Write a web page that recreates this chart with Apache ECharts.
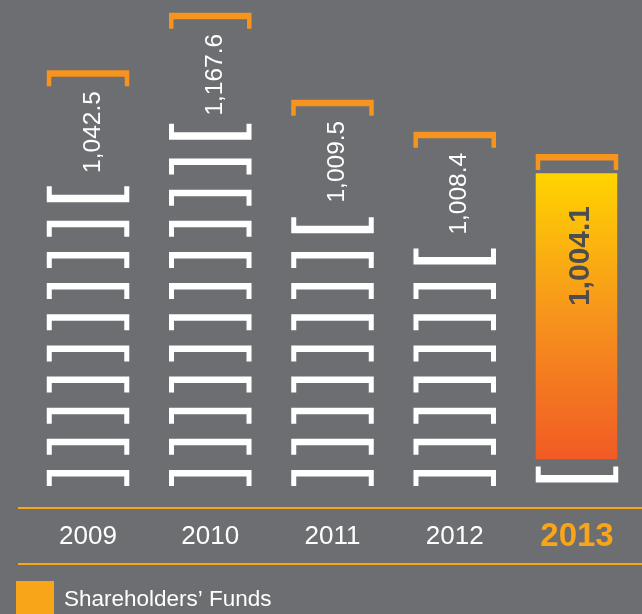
<!DOCTYPE html>
<html>
<head>
<meta charset="utf-8">
<script src="https://cdn.jsdelivr.net/npm/echarts@6/dist/echarts.min.js"></script>
<style>
html,body{margin:0;padding:0;background:#6d6e71;}
#chart{width:642px;height:614px;}
</style>
</head>
<body>
<div id="chart"></div>
<script>
// ---- data ----
var years = ['2009', '2010', '2011', '2012', '2013'];
var funds = [1042.5, 1167.6, 1009.5, 1008.4, 1004.1];          // Shareholders' Funds (labels)
var blocks = [9, 11, 8, 7, 0];                                  // white stacked bracket blocks per bar
var heights = [13.35, 15.19, 12.40, 11.37, 10.66];              // bar top (orange cap) in block units
var highlightYear = '2013';
var seriesName = 'Shareholders\u2019 Funds';

var FONT = 'Liberation Sans, Arial, sans-serif';
var chart = echarts.init(document.getElementById('chart'), null, {renderer: 'canvas'});

function fmt(v) {
  var s = v.toFixed(1).split('.');
  return s[0].replace(/\B(?=(\d{3})+(?!\d))/g, ',') + '.' + s[1];
}

// bracket with bar on top and legs down
function capTop(x, y, w, h, t, l, color) {
  return {type: 'polygon', shape: {points: [
    [x, y], [x + w, y], [x + w, y + h], [x + w - l, y + h], [x + w - l, y + t],
    [x + l, y + t], [x + l, y + h], [x, y + h]]}, style: {fill: color}};
}
// bracket with bar at bottom and legs up
function capBottom(x, y, w, h, t, l, color) {
  return {type: 'polygon', shape: {points: [
    [x, y], [x + l, y], [x + l, y + h - t], [x + w - l, y + h - t], [x + w - l, y],
    [x + w, y], [x + w, y + h], [x, y + h]]}, style: {fill: color}};
}

function renderItem(params, api) {
  var i = api.value(0), n = api.value(1), top = api.value(2), val = api.value(3);
  var base = api.coord([i, 0]);
  var cx = base[0];
  var band = api.size([1, 0])[0];
  var W = band * 0.675, x0 = cx - W / 2;
  var H = 16, L = 5;
  var children = [];
  for (var k = 0; k < n; k++) {
    var yb = api.coord([i, k])[1];
    children.push(capTop(x0, yb - H, W, H, 6.5, L, '#ffffff'));
  }
  var yOpen = api.coord([i, n])[1] - 3.5;
  children.push(capBottom(x0, yOpen - H, W, H, 7.5, L, '#ffffff'));
  var yTop = api.coord([i, top])[1];
  children.push(capTop(x0, yTop, W, H, 6.5, 4.5, '#f7941d'));
  var hi = years[i] === highlightYear;
  if (hi) {
    var rTop = yTop + H + 3.3, rBot = yOpen - H - 7.2;
    children.push({type: 'rect', shape: {x: x0, y: rTop, width: W - 1, height: rBot - rTop},
      style: {fill: new echarts.graphic.LinearGradient(0, 0, 0, 1, [
        {offset: 0, color: '#ffd400'}, {offset: 0.5, color: '#f7941d'}, {offset: 1, color: '#f15a24'}])}});
    children.push({type: 'text', x: cx + 4, y: yTop + 52, rotation: Math.PI / 2,
      style: {text: fmt(val), fill: '#4d4d4f', font: 'bold 30px ' + FONT, align: 'right', verticalAlign: 'middle'}});
  } else {
    children.push({type: 'text', x: cx + 5, y: yTop + 21, rotation: Math.PI / 2,
      style: {text: fmt(val), fill: '#ffffff', font: '24.5px ' + FONT, align: 'right', verticalAlign: 'middle'}});
  }
  return {type: 'group', children: children};
}

var data = years.map(function (y, i) { return [i, blocks[i], heights[i], funds[i]]; });

chart.setOption({
  backgroundColor: '#6d6e71',
  animation: false,
  grid: {left: 26.9, right: 3.9, top: 3.2, bottom: 128},
  xAxis: {
    type: 'category', data: years,
    axisLine: {show: false}, axisTick: {show: false}, splitLine: {show: false},
    axisLabel: {
      margin: 36,
      formatter: function (v) { return v === highlightYear ? '{h|' + v + '}' : '{n|' + v + '}'; },
      rich: {
        n: {color: '#ffffff', fontSize: 26, fontFamily: FONT, lineHeight: 30},
        h: {color: '#f9a51a', fontSize: 33, fontWeight: 'bold', fontFamily: FONT, lineHeight: 30}
      }
    }
  },
  yAxis: {type: 'value', min: 0, max: 15.5, show: false},
  legend: {
    left: 16, top: 581, padding: 0, itemWidth: 38, itemHeight: 38, icon: 'rect',
    data: [{name: seriesName, itemStyle: {color: '#f9a51a'}}],
    textStyle: {color: '#ffffff', fontSize: 22.5, fontFamily: FONT, padding: [0, 0, 5, 5]}
  },
  graphic: [
    {type: 'line', shape: {x1: 18, y1: 508, x2: 642, y2: 508}, style: {stroke: '#f9a51a', lineWidth: 2}},
    {type: 'line', shape: {x1: 18, y1: 564, x2: 642, y2: 564}, style: {stroke: '#f9a51a', lineWidth: 2}}
  ],
  series: [{
    type: 'custom', name: seriesName, renderItem: renderItem,
    itemStyle: {color: '#f9a51a'},
    encode: {x: 0, y: 2},
    data: data
  }]
});
</script>
</body>
</html>
